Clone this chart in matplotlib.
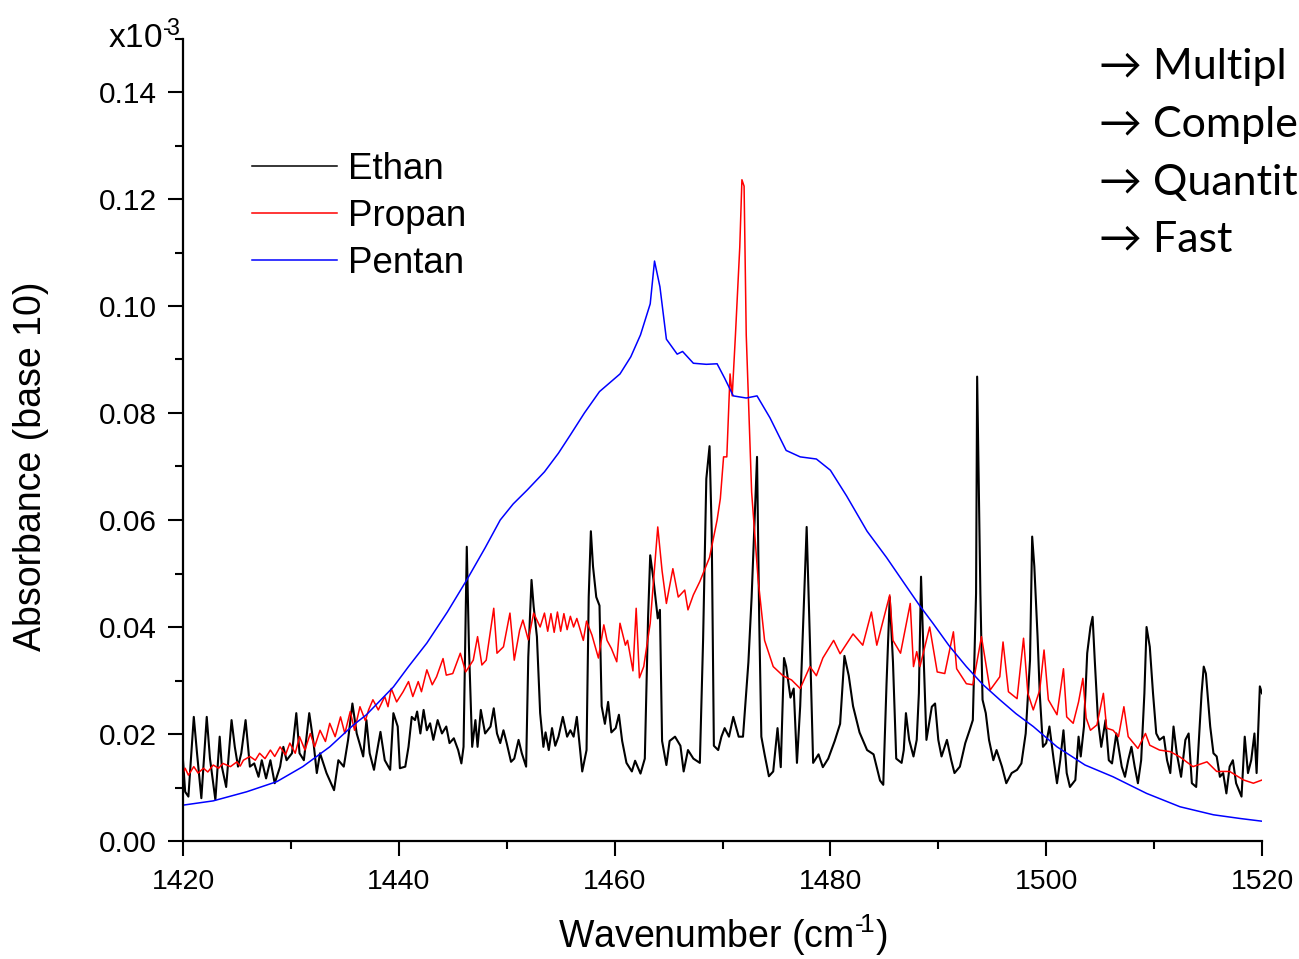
import matplotlib
matplotlib.use("Agg")
import matplotlib.pyplot as plt
from matplotlib.ticker import MultipleLocator, FormatStrFormatter

plt.rcParams['font.family'] = ['Liberation Sans', 'DejaVu Sans']
plt.rcParams['mathtext.fontset'] = 'custom'
plt.rcParams['mathtext.rm'] = 'Liberation Sans'
plt.rcParams['mathtext.it'] = 'Liberation Sans:italic'
plt.rcParams['mathtext.bf'] = 'Liberation Sans:bold'

# ---------------- data ----------------
ethan_wn = [1420.0, 1420.2, 1420.5, 1421.0, 1421.3, 1421.7, 1422.2, 1422.5, 1423.0, 1423.4,
            1423.6, 1424.0, 1424.5, 1424.8, 1425.1, 1425.4, 1425.8, 1426.2, 1426.6, 1427.0,
            1427.3, 1427.7, 1428.1, 1428.5, 1429.0, 1429.3, 1429.6, 1430.1, 1430.5, 1430.8,
            1431.2, 1431.7, 1432.1, 1432.4, 1432.7, 1433.3, 1434.0, 1434.4, 1434.9, 1435.3,
            1435.7, 1436.1, 1436.4, 1436.7, 1437.0, 1437.3, 1437.7, 1437.9, 1438.3, 1438.7,
            1439.2, 1439.5, 1439.9, 1440.1, 1440.6, 1440.9, 1441.2, 1441.5, 1441.7, 1442.0,
            1442.3, 1442.6, 1442.9, 1443.2, 1443.6, 1444.0, 1444.4, 1444.7, 1445.1, 1445.5,
            1445.8, 1446.0, 1446.3, 1446.5, 1446.8, 1447.1, 1447.3, 1447.6, 1448.0, 1448.5,
            1448.8, 1449.1, 1449.4, 1449.7, 1450.0, 1450.4, 1450.7, 1451.1, 1451.4, 1451.8,
            1452.0, 1452.3, 1452.5, 1452.8, 1453.1, 1453.4, 1453.6, 1453.9, 1454.2, 1454.5,
            1454.8, 1455.2, 1455.6, 1455.9, 1456.2, 1456.5, 1457.0, 1457.4, 1457.6, 1457.8,
            1458.0, 1458.3, 1458.6, 1458.8, 1459.1, 1459.4, 1459.7, 1460.1, 1460.4, 1460.7,
            1461.1, 1461.6, 1461.9, 1462.4, 1462.8, 1463.1, 1463.3, 1463.6, 1464.0, 1464.2,
            1464.4, 1464.8, 1465.1, 1465.6, 1466.1, 1466.4, 1466.8, 1467.3, 1467.9, 1468.2,
            1468.5, 1468.8, 1469.0, 1469.2, 1469.6, 1469.9, 1470.2, 1470.6, 1471.0, 1471.5,
            1471.9, 1472.4, 1472.7, 1473.2, 1473.4, 1473.6, 1473.9, 1474.3, 1474.7, 1475.1,
            1475.4, 1475.7, 1475.9, 1476.3, 1476.6, 1476.9, 1477.2, 1477.8, 1478.1, 1478.4,
            1478.9, 1479.3, 1479.8, 1480.4, 1480.9, 1481.3, 1481.7, 1482.1, 1482.7, 1483.4,
            1484.0, 1484.6, 1484.9, 1485.2, 1485.5, 1485.8, 1486.1, 1486.6, 1486.8, 1487.0,
            1487.3, 1487.7, 1488.0, 1488.2, 1488.4, 1488.6, 1488.9, 1489.4, 1489.7, 1490.0,
            1490.3, 1490.8, 1491.2, 1491.5, 1492.0, 1492.5, 1492.9, 1493.2, 1493.5, 1493.6,
            1493.9, 1494.1, 1494.4, 1494.7, 1495.1, 1495.4, 1495.9, 1496.3, 1496.8, 1497.3,
            1497.7, 1498.1, 1498.5, 1498.7, 1498.9, 1499.2, 1499.4, 1499.7, 1500.0, 1500.3,
            1500.7, 1501.0, 1501.3, 1501.6, 1501.9, 1502.2, 1502.7, 1503.0, 1503.2, 1503.5,
            1503.8, 1504.1, 1504.3, 1504.5, 1504.8, 1505.1, 1505.5, 1505.8, 1506.1, 1506.5,
            1507.0, 1507.3, 1507.6, 1507.9, 1508.2, 1508.5, 1508.8, 1509.1, 1509.3, 1509.6,
            1509.9, 1510.2, 1510.5, 1510.9, 1511.2, 1511.5, 1511.8, 1512.1, 1512.5, 1512.9,
            1513.2, 1513.5, 1513.9, 1514.4, 1514.6, 1514.8, 1515.2, 1515.5, 1515.8, 1516.1,
            1516.4, 1516.7, 1517.0, 1517.3, 1517.6, 1518.1, 1518.4, 1518.7, 1519.0, 1519.3,
            1519.5, 1519.8, 1520.0]
ethan_abs = [0.0151, 0.0092, 0.0083, 0.0232, 0.0164, 0.0080, 0.0232, 0.0154, 0.0077, 0.0195,
             0.0139, 0.0101, 0.0226, 0.0176, 0.0139, 0.0164, 0.0226, 0.0139, 0.0145, 0.0120,
             0.0151, 0.0117, 0.0151, 0.0108, 0.0139, 0.0176, 0.0151, 0.0164, 0.0239, 0.0164,
             0.0151, 0.0239, 0.0183, 0.0127, 0.0164, 0.0127, 0.0095, 0.0151, 0.0139, 0.0189,
             0.0257, 0.0201, 0.0180, 0.0158, 0.0226, 0.0164, 0.0133, 0.0158, 0.0204, 0.0151,
             0.0133, 0.0239, 0.0214, 0.0136, 0.0139, 0.0176, 0.0232, 0.0226, 0.0242, 0.0201,
             0.0245, 0.0207, 0.0220, 0.0189, 0.0226, 0.0201, 0.0214, 0.0183, 0.0192, 0.0170,
             0.0145, 0.0176, 0.0550, 0.0363, 0.0176, 0.0226, 0.0176, 0.0245, 0.0201, 0.0214,
             0.0248, 0.0201, 0.0183, 0.0207, 0.0183, 0.0148, 0.0154, 0.0189, 0.0164, 0.0139,
             0.0344, 0.0488, 0.0438, 0.0382, 0.0239, 0.0176, 0.0203, 0.0170, 0.0211, 0.0178,
             0.0195, 0.0232, 0.0195, 0.0207, 0.0195, 0.0232, 0.0130, 0.0170, 0.0456, 0.0579,
             0.0513, 0.0456, 0.0440, 0.0252, 0.0219, 0.0260, 0.0203, 0.0211, 0.0236, 0.0187,
             0.0146, 0.0130, 0.0150, 0.0126, 0.0154, 0.0416, 0.0534, 0.0489, 0.0416, 0.0432,
             0.0187, 0.0142, 0.0187, 0.0195, 0.0178, 0.0130, 0.0170, 0.0154, 0.0146, 0.0375,
             0.0677, 0.0738, 0.0579, 0.0178, 0.0170, 0.0195, 0.0211, 0.0195, 0.0232, 0.0195,
             0.0195, 0.0334, 0.0456, 0.0718, 0.0416, 0.0195, 0.0162, 0.0121, 0.0130, 0.0211,
             0.0138, 0.0342, 0.0326, 0.0268, 0.0285, 0.0146, 0.0252, 0.0587, 0.0375, 0.0146,
             0.0162, 0.0138, 0.0154, 0.0187, 0.0219, 0.0346, 0.0309, 0.0252, 0.0203, 0.0170,
             0.0162, 0.0113, 0.0105, 0.0293, 0.0456, 0.0334, 0.0154, 0.0146, 0.0170, 0.0239,
             0.0189, 0.0158, 0.0189, 0.0276, 0.0494, 0.0369, 0.0189, 0.0251, 0.0257, 0.0189,
             0.0158, 0.0189, 0.0151, 0.0127, 0.0139, 0.0183, 0.0207, 0.0226, 0.0463, 0.0868,
             0.0463, 0.0264, 0.0239, 0.0189, 0.0151, 0.0170, 0.0139, 0.0108, 0.0127, 0.0133,
             0.0145, 0.0201, 0.0338, 0.0569, 0.0513, 0.0382, 0.0276, 0.0176, 0.0183, 0.0214,
             0.0151, 0.0108, 0.0151, 0.0207, 0.0127, 0.0101, 0.0114, 0.0195, 0.0158, 0.0214,
             0.0351, 0.0400, 0.0419, 0.0338, 0.0226, 0.0176, 0.0226, 0.0151, 0.0145, 0.0201,
             0.0139, 0.0120, 0.0151, 0.0176, 0.0139, 0.0108, 0.0151, 0.0276, 0.0400, 0.0363,
             0.0276, 0.0201, 0.0189, 0.0195, 0.0151, 0.0127, 0.0214, 0.0164, 0.0120, 0.0189,
             0.0201, 0.0108, 0.0101, 0.0276, 0.0326, 0.0313, 0.0214, 0.0164, 0.0158, 0.0120,
             0.0127, 0.0089, 0.0139, 0.0151, 0.0108, 0.0083, 0.0195, 0.0127, 0.0151, 0.0201,
             0.0127, 0.0289, 0.0276]

propan_wn = [1420.0, 1420.2, 1420.5, 1421.0, 1421.4, 1421.9, 1422.3, 1422.8, 1423.3, 1423.7,
             1424.4, 1425.0, 1425.3, 1425.6, 1426.2, 1426.7, 1427.1, 1427.6, 1428.1, 1428.5,
             1429.0, 1429.5, 1429.9, 1430.4, 1430.8, 1431.3, 1431.8, 1432.2, 1432.7, 1433.2,
             1433.6, 1434.1, 1434.6, 1435.0, 1435.5, 1435.9, 1436.4, 1436.9, 1437.2, 1437.6,
             1438.1, 1438.7, 1439.0, 1439.3, 1439.8, 1440.4, 1440.9, 1441.3, 1441.8, 1442.1,
             1442.6, 1443.1, 1443.5, 1444.1, 1444.4, 1445.0, 1445.7, 1446.2, 1446.9, 1447.3,
             1447.7, 1448.1, 1448.8, 1449.1, 1449.7, 1450.3, 1450.7, 1451.2, 1451.5, 1452.0,
             1452.5, 1453.1, 1453.5, 1453.8, 1454.1, 1454.4, 1454.7, 1455.0, 1455.3, 1455.6,
             1455.9, 1456.2, 1456.5, 1457.1, 1457.4, 1457.9, 1458.5, 1459.0, 1459.3, 1459.7,
             1460.2, 1460.5, 1461.0, 1461.2, 1461.7, 1462.0, 1462.3, 1462.7, 1463.3, 1464.0,
             1464.4, 1464.8, 1465.4, 1465.9, 1466.5, 1466.8, 1467.3, 1467.9, 1468.8, 1469.5,
             1469.8, 1470.1, 1470.4, 1470.7, 1470.9, 1471.2, 1471.6, 1471.8, 1472.0, 1472.2,
             1472.7, 1473.3, 1473.9, 1474.7, 1475.6, 1476.4, 1477.2, 1478.1, 1478.7, 1479.3,
             1480.3, 1480.9, 1482.1, 1483.0, 1483.8, 1484.3, 1485.5, 1485.8, 1486.5, 1487.4,
             1487.7, 1488.0, 1488.3, 1489.2, 1489.9, 1490.6, 1491.4, 1491.7, 1492.6, 1493.2,
             1494.0, 1494.8, 1495.7, 1496.0, 1496.5, 1497.3, 1497.9, 1498.3, 1498.8, 1499.4,
             1499.8, 1500.2, 1501.0, 1501.6, 1501.9, 1502.5, 1503.0, 1503.4, 1503.7, 1504.1,
             1504.7, 1505.3, 1505.6, 1506.2, 1506.7, 1507.2, 1507.6, 1508.5, 1509.2, 1509.6,
             1510.5, 1511.5, 1512.4, 1513.6, 1514.9, 1515.8, 1517.0, 1518.3, 1519.2, 1520.0]
propan_abs = [0.0127, 0.0136, 0.0123, 0.0139, 0.0127, 0.0136, 0.0129, 0.0142, 0.0136, 0.0145,
              0.0139, 0.0148, 0.0140, 0.0151, 0.0158, 0.0151, 0.0164, 0.0154, 0.0170, 0.0158,
              0.0176, 0.0161, 0.0183, 0.0164, 0.0195, 0.0170, 0.0201, 0.0176, 0.0207, 0.0186,
              0.0220, 0.0195, 0.0232, 0.0201, 0.0242, 0.0207, 0.0251, 0.0225, 0.0245, 0.0264,
              0.0245, 0.0270, 0.0251, 0.0285, 0.0260, 0.0279, 0.0298, 0.0270, 0.0298, 0.0279,
              0.0320, 0.0292, 0.0307, 0.0341, 0.0310, 0.0313, 0.0351, 0.0316, 0.0338, 0.0382,
              0.0329, 0.0338, 0.0435, 0.0351, 0.0363, 0.0426, 0.0338, 0.0394, 0.0413, 0.0376,
              0.0426, 0.0400, 0.0426, 0.0392, 0.0425, 0.0390, 0.0428, 0.0392, 0.0425, 0.0395,
              0.0420, 0.0400, 0.0416, 0.0375, 0.0411, 0.0385, 0.0342, 0.0404, 0.0375, 0.0360,
              0.0335, 0.0407, 0.0366, 0.0375, 0.0318, 0.0435, 0.0305, 0.0326, 0.0407, 0.0587,
              0.0505, 0.0444, 0.0509, 0.0456, 0.0469, 0.0432, 0.0460, 0.0485, 0.0530, 0.0600,
              0.0640, 0.0718, 0.0718, 0.0873, 0.0832, 0.0946, 0.1110, 0.1236, 0.1224, 0.0946,
              0.0652, 0.0489, 0.0375, 0.0326, 0.0309, 0.0301, 0.0285, 0.0326, 0.0309, 0.0342,
              0.0375, 0.0350, 0.0387, 0.0366, 0.0428, 0.0366, 0.0460, 0.0375, 0.0351, 0.0444,
              0.0326, 0.0354, 0.0326, 0.0400, 0.0316, 0.0313, 0.0391, 0.0322, 0.0294, 0.0292,
              0.0382, 0.0282, 0.0307, 0.0372, 0.0279, 0.0266, 0.0379, 0.0276, 0.0245, 0.0282,
              0.0357, 0.0264, 0.0236, 0.0322, 0.0232, 0.0220, 0.0260, 0.0304, 0.0230, 0.0207,
              0.0217, 0.0276, 0.0211, 0.0207, 0.0195, 0.0251, 0.0195, 0.0173, 0.0201, 0.0179,
              0.0170, 0.0167, 0.0157, 0.0139, 0.0148, 0.0130, 0.0130, 0.0114, 0.0108, 0.0114]

pentan_wn = [1420.0, 1422.8, 1425.9, 1428.7, 1431.1, 1433.6, 1435.8, 1437.0, 1439.5, 1440.9,
             1442.6, 1444.5, 1446.3, 1448.0, 1449.4, 1450.6, 1451.9, 1453.5, 1454.8, 1455.9,
             1457.2, 1458.6, 1460.5, 1461.5, 1462.4, 1463.3, 1463.7, 1464.2, 1464.8, 1465.8,
             1466.3, 1467.3, 1468.5, 1469.5, 1470.2, 1471.0, 1472.2, 1473.2, 1474.4, 1475.9,
             1477.2, 1478.7, 1480.0, 1481.5, 1483.4, 1485.2, 1486.9, 1488.2, 1489.5, 1491.0,
             1492.6, 1494.1, 1495.7, 1497.2, 1498.8, 1501.0, 1503.6, 1506.2, 1509.3, 1512.4,
             1515.5, 1518.0, 1520.0]
pentan_abs = [0.0067, 0.0075, 0.0092, 0.0111, 0.0139, 0.0176, 0.0217, 0.0236, 0.0288, 0.0326,
              0.0370, 0.0428, 0.0488, 0.0548, 0.0600, 0.0630, 0.0656, 0.0690, 0.0725, 0.0759,
              0.0800, 0.0840, 0.0873, 0.0905, 0.0946, 0.1004, 0.1084, 0.1036, 0.0938, 0.0910,
              0.0915, 0.0893, 0.0891, 0.0892, 0.0865, 0.0832, 0.0828, 0.0832, 0.0791, 0.0730,
              0.0718, 0.0714, 0.0693, 0.0645, 0.0579, 0.0530, 0.0480, 0.0442, 0.0407, 0.0365,
              0.0326, 0.0293, 0.0264, 0.0238, 0.0214, 0.0176, 0.0142, 0.0120, 0.0089, 0.0064,
              0.0049, 0.0042, 0.0037]

series_labels = ["Ethan", "Propan", "Pentan"]
bullets = ["\u2192 Multipl", "\u2192 Comple", "\u2192 Quantit", "\u2192 Fast"]

# ---------------- figure ----------------
W, H = 1299, 959
fig = plt.figure(figsize=(W / 100, H / 100), dpi=100)
ax = fig.add_axes([183 / W, 1 - 841 / H, (1262 - 183) / W, (841 - 38.5) / H])

ax.plot(ethan_wn, ethan_abs, color='black', lw=1.5, label=series_labels[0])
ax.plot(propan_wn, propan_abs, color='#ff0000', lw=1.1, label=series_labels[1])
ax.plot(pentan_wn, pentan_abs, color='#0000ff', lw=1.1, label=series_labels[2])

ax.set_xlim(1420, 1520)
ax.set_ylim(0.0, 0.15)
ax.xaxis.set_major_locator(MultipleLocator(20))
ax.xaxis.set_minor_locator(MultipleLocator(10))
ax.yaxis.set_minor_locator(MultipleLocator(0.01))
ax.set_yticks([0.0, 0.02, 0.04, 0.06, 0.08, 0.10, 0.12, 0.14])
ax.yaxis.set_major_formatter(FormatStrFormatter('%.2f'))

for s in ['top', 'right']:
    ax.spines[s].set_visible(False)
for s in ['left', 'bottom']:
    ax.spines[s].set_linewidth(1.6)

ax.tick_params(which='major', direction='out', length=11, width=1.5)
ax.tick_params(which='minor', direction='out', length=6, width=1.5)
ax.tick_params(axis='y', which='major', pad=8, labelsize=21.5)
ax.tick_params(axis='x', which='major', pad=9, labelsize=20.5)

ax.set_xlabel("Wavenumber (cm$^{\u2010\\!1}$)", fontsize=27, labelpad=13)
ax.set_ylabel("Absorbance (base 10)", fontsize=27)
ax.yaxis.set_label_coords(-0.124, 0.467)

fig.text(181 / W, 1 - 48 / H, "x10$^{\u2010\\!3}$", fontsize=24, ha='right', va='baseline')

leg = ax.legend(loc='upper left', bbox_to_anchor=(252 / W, 1 - 152 / H),
                bbox_transform=fig.transFigure, frameon=False, fontsize=26.5,
                handlelength=2.3, handletextpad=0.3, labelspacing=0.33,
                borderpad=0, borderaxespad=0)
for line in leg.get_lines():
    line.set_linewidth(1.1)

ys = [67, 125, 183, 240]
for t, y in zip(bullets, ys):
    fig.text(1099 / W, 1 - y / H, t, fontsize=31, ha='left', va='center',
             family=['Lato', 'DejaVu Sans'])

fig.savefig("out.png", dpi=100)
